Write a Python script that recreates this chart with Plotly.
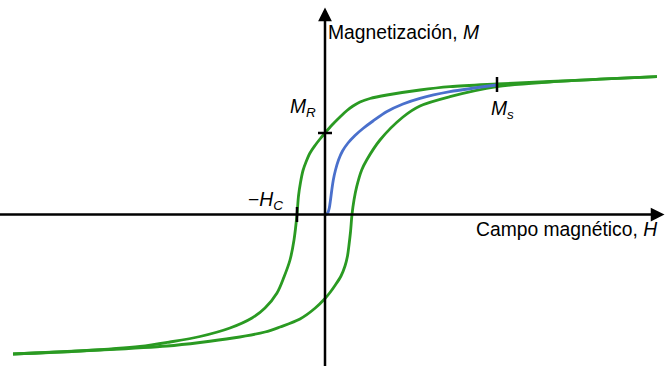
import plotly.graph_objects as go

# Hysteresis loop of a ferromagnetic material (arbitrary units)
# Descending branch: from positive saturation back to negative saturation
H_upper = [3.32, 2.75, 2.25, 1.72, 1.25, 0.95, 0.62, 0.45, 0.35, 0.28, 0.22, 0.15, 0.07,
           0.00, -0.05, -0.10, -0.15, -0.19, -0.22, -0.245, -0.265, -0.28,
           -0.31, -0.35, -0.41, -0.48, -0.60, -0.73, -0.95, -1.25, -1.55, -1.85, -2.45, -3.12]
M_upper = [1.378, 1.353, 1.33, 1.305, 1.278, 1.245, 1.195, 1.16, 1.125, 1.085, 1.04, 0.975, 0.895,
           0.815, 0.755, 0.69, 0.615, 0.525, 0.44, 0.32, 0.185, 0.0,
           -0.255, -0.455, -0.625, -0.785, -0.935, -1.035, -1.135, -1.22, -1.275, -1.32, -1.365, -1.395]

# Ascending branch: from negative saturation up to positive saturation
H_lower = [-3.12, -2.25, -1.58, -1.25, -0.92, -0.60, -0.45, -0.25, -0.10, 0.00, 0.05, 0.10,
           0.16, 0.20, 0.225, 0.24, 0.255, 0.27, 0.29, 0.317, 0.367, 0.417, 0.55, 0.78,
           0.95, 1.25, 1.72, 2.25, 2.75, 3.32]
M_lower = [-1.395, -1.355, -1.315, -1.28, -1.235, -1.175, -1.125, -1.045, -0.938, -0.84, -0.78, -0.71,
           -0.615, -0.515, -0.415, -0.305, -0.175, 0.0, 0.145, 0.278, 0.445, 0.545, 0.745, 0.975,
           1.085, 1.178, 1.278, 1.325, 1.353, 1.378]

# Initial magnetization curve starting from the demagnetized state
H_initial = [0.0, 0.015, 0.03, 0.043, 0.055, 0.068, 0.083, 0.105, 0.135, 0.175, 0.23, 0.30,
             0.38, 0.48, 0.62, 0.78, 0.95, 1.25, 1.72]
M_initial = [0.0, 0.003, 0.02, 0.065, 0.145, 0.245, 0.345, 0.445, 0.545, 0.635, 0.715, 0.79,
             0.86, 0.935, 1.03, 1.105, 1.162, 1.228, 1.295]

# Characteristic points
M_R = 0.815      # remanence
H_C = 0.28       # coercivity
H_S, M_S = 1.72, 1.30  # saturation mark

axis_labels = ["Magnetización, <i>M</i>", "Campo magnético, <i>H</i>"]
point_labels = ["<i>M</i><sub><i>R</i></sub>", "\u2212<i>H</i><sub><i>C</i></sub>", "<i>M</i><sub><i>s</i></sub>"]

GREEN = "#2a9a22"
BLUE = "#4a70cc"
FONT = "Liberation Sans, Arial, sans-serif"
LW = 2.8

fig = go.Figure()
for hx, my, col in [(H_upper, M_upper, GREEN), (H_lower, M_lower, GREEN), (H_initial, M_initial, BLUE)]:
    fig.add_trace(go.Scatter(x=hx, y=my, mode="lines",
                             line=dict(color=col, width=LW, shape="spline", smoothing=0.9),
                             hoverinfo="skip"))

x_range = [-3.25, 3.40]
y_range = [-1.515, 2.145]

# Axes drawn as arrows through the origin
fig.add_annotation(x=3.395, y=0, ax=-3.4, ay=0, xref="x", yref="y", axref="x", ayref="y",
                   text="", showarrow=True, arrowhead=2, arrowsize=1.1, arrowwidth=2.5,
                   arrowcolor="black", standoff=0)
fig.add_annotation(x=0, y=2.07, ax=0, ay=-1.7, xref="x", yref="y", axref="x", ayref="y",
                   text="", showarrow=True, arrowhead=2, arrowsize=1.1, arrowwidth=2.5,
                   arrowcolor="black", standoff=0)

# Tick marks at the characteristic points
tick = dict(color="black", width=2.5)
fig.add_shape(type="line", xref="x", yref="y", xsizemode="pixel", xanchor=0,
              x0=-7, x1=7, y0=M_R, y1=M_R, line=tick)
fig.add_shape(type="line", xref="x", yref="y", ysizemode="pixel", yanchor=0,
              x0=-H_C, x1=-H_C, y0=-7.5, y1=7.5, line=tick)
fig.add_shape(type="line", xref="x", yref="y", ysizemode="pixel", yanchor=M_S,
              x0=H_S, x1=H_S, y0=-7.5, y1=7.5, line=tick)

font = dict(family=FONT, size=19.3, color="black")
fig.add_annotation(x=0.01, y=1.82, text=axis_labels[0], showarrow=False,
                   xanchor="left", yanchor="middle", font=font)
fig.add_annotation(x=3.34, y=-0.15, text=axis_labels[1], showarrow=False,
                   xanchor="right", yanchor="middle", font=font)
fig.add_annotation(x=-0.07, y=1.07, text=point_labels[0], showarrow=False,
                   xanchor="right", yanchor="middle", font=font)
fig.add_annotation(x=-0.40, y=0.14, text=point_labels[1], showarrow=False,
                   xanchor="right", yanchor="middle", font=font)
fig.add_annotation(x=1.64, y=1.05, text=point_labels[2], showarrow=False,
                   xanchor="left", yanchor="middle", font=font)

fig.update_layout(
    width=665, height=366, autosize=False,
    margin=dict(l=0, r=0, t=0, b=0),
    paper_bgcolor="white", plot_bgcolor="white",
    showlegend=False,
    xaxis=dict(range=x_range, visible=False, fixedrange=True),
    yaxis=dict(range=y_range, visible=False, fixedrange=True),
)

fig.write_html("out.html")
